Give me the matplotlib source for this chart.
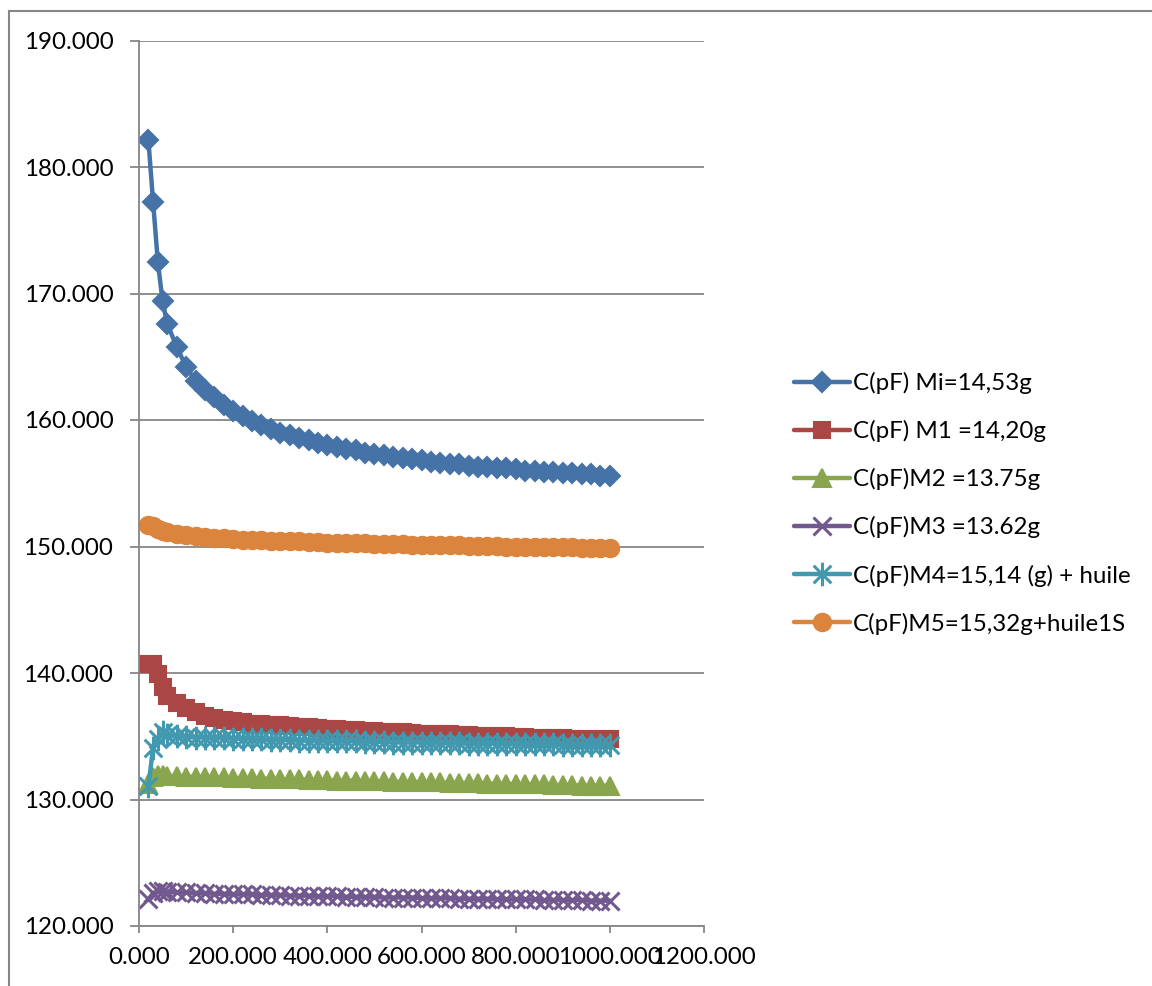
import numpy as np
import matplotlib
matplotlib.use("Agg")
import matplotlib.pyplot as plt
from matplotlib.lines import Line2D
from matplotlib.path import Path
from matplotlib.ticker import FuncFormatter, MultipleLocator

plt.rcParams['font.family'] = ['Lato', 'DejaVu Sans']

# ── data ──────────────────────────────────────────────────
freq = [20, 30, 40, 50, 60, 80, 100, 120, 140, 160,
        180, 200, 220, 240, 260, 280, 300, 320, 340, 360,
        380, 400, 420, 440, 460, 480, 500, 520, 540, 560,
        580, 600, 620, 640, 660, 680, 700, 720, 740, 760,
        780, 800, 820, 840, 860, 880, 900, 920, 940, 960,
        980, 1000]

c_mi = [182.1, 177.2, 172.5, 169.4, 167.6, 165.8, 164.2, 163.1, 162.4, 161.8,
        161.2, 160.7, 160.3, 159.9, 159.6, 159.3, 159.0, 158.8, 158.6, 158.4,
        158.2, 158.0, 157.9, 157.7, 157.6, 157.4, 157.3, 157.2, 157.1, 157.0,
        156.9, 156.8, 156.7, 156.6, 156.5, 156.5, 156.4, 156.3, 156.3, 156.2,
        156.2, 156.1, 156.0, 156.0, 155.9, 155.9, 155.8, 155.8, 155.7, 155.7,
        155.6, 155.6]

c_m1 = [140.7, 140.7, 139.9, 138.9, 138.2, 137.6, 137.2, 136.9, 136.6, 136.45,
        136.3, 136.2, 136.1, 136.0, 135.95, 135.9, 135.85, 135.8, 135.75, 135.7,
        135.65, 135.6, 135.55, 135.5, 135.5, 135.45, 135.4, 135.35, 135.35, 135.3,
        135.25, 135.2, 135.2, 135.15, 135.15, 135.1, 135.1, 135.05, 135.05, 135.0,
        135.0, 134.95, 134.95, 134.9, 134.9, 134.85, 134.85, 134.8, 134.8, 134.8,
        134.75, 134.75]

c_m2 = [131.2, 131.8, 131.9, 131.9, 131.85, 131.85, 131.8, 131.8, 131.8, 131.75,
        131.75, 131.7, 131.7, 131.7, 131.65, 131.65, 131.6, 131.6, 131.6, 131.55,
        131.55, 131.55, 131.5, 131.5, 131.5, 131.45, 131.45, 131.45, 131.4, 131.4,
        131.4, 131.35, 131.35, 131.35, 131.3, 131.3, 131.3, 131.3, 131.25, 131.25,
        131.25, 131.2, 131.2, 131.2, 131.2, 131.15, 131.15, 131.15, 131.1, 131.1,
        131.1, 131.1]

c_m3 = [122.1, 122.6, 122.75, 122.75, 122.7, 122.65, 122.65, 122.6, 122.6, 122.55,
        122.55, 122.5, 122.5, 122.5, 122.45, 122.45, 122.45, 122.4, 122.4, 122.4,
        122.35, 122.35, 122.35, 122.3, 122.3, 122.3, 122.3, 122.25, 122.25, 122.25,
        122.25, 122.2, 122.2, 122.2, 122.2, 122.15, 122.15, 122.15, 122.15, 122.1,
        122.1, 122.1, 122.1, 122.1, 122.05, 122.05, 122.05, 122.05, 122.05, 122.0,
        122.0, 122.0]

c_m4 = [131.1, 134.1, 134.8, 135.3, 135.1, 135.0, 134.95, 134.9, 134.9, 134.85,
        134.85, 134.8, 134.8, 134.75, 134.75, 134.7, 134.7, 134.7, 134.65, 134.65,
        134.65, 134.6, 134.6, 134.6, 134.6, 134.55, 134.55, 134.55, 134.5, 134.5,
        134.5, 134.5, 134.45, 134.45, 134.45, 134.45, 134.4, 134.4, 134.4, 134.4,
        134.4, 134.35, 134.35, 134.35, 134.35, 134.35, 134.3, 134.3, 134.3, 134.3,
        134.3, 134.3]

c_m5 = [151.7, 151.6, 151.4, 151.25, 151.15, 151.0, 150.9, 150.8, 150.75, 150.7,
        150.65, 150.6, 150.55, 150.55, 150.5, 150.45, 150.45, 150.4, 150.4, 150.35,
        150.35, 150.3, 150.3, 150.3, 150.25, 150.25, 150.2, 150.2, 150.2, 150.2,
        150.15, 150.15, 150.15, 150.1, 150.1, 150.1, 150.05, 150.05, 150.05, 150.05,
        150.0, 150.0, 150.0, 150.0, 149.95, 149.95, 149.95, 149.95, 149.9, 149.9,
        149.9, 149.9]

labels = ["C(pF) Mi=14,53g", "C(pF) M1 =14,20g", "C(pF)M2 =13.75g",
          "C(pF)M3 =13.62g", "C(pF)M4=15,14 (g) + huile", "C(pF)M5=15,32g+huile1S"]

# excel-ish asterisk: an X plus a vertical bar
star = Path([(-0.75, -0.75), (0.75, 0.75), (-0.75, 0.75), (0.75, -0.75), (0, -1), (0, 1)],
            [Path.MOVETO, Path.LINETO, Path.MOVETO, Path.LINETO, Path.MOVETO, Path.LINETO])

# (values, colour, marker, size, edge width)
series = [
    (c_mi, '#4572A7', 'D', 10.5, 1.5),
    (c_m1, '#AA4643', 's', 12, 1.5),
    (c_m2, '#89A54E', '^', 13.5, 1.5),
    (c_m3, '#71588F', 'x', 13, 2.2),
    (c_m4, '#4198AF', star, 17, 2.2),
    (c_m5, '#DB843D', 'o', 12.5, 1.5),
]

GRID = '#868686'

fig = plt.figure(figsize=(11.52, 9.86), dpi=100, facecolor='white')
ax = fig.add_axes([139 / 1152, 60 / 986, (704 - 139) / 1152, (926 - 40.5) / 986])

for (vals, col, mk, ms, mew), lab in zip(series, labels):
    ax.plot(freq, vals, color=col, lw=3.2, marker=mk, markersize=ms,
            markerfacecolor=col, markeredgecolor=col, markeredgewidth=mew,
            label=lab, solid_capstyle='round', solid_joinstyle='round')

ax.set_xlim(0, 1200)
ax.set_ylim(120, 190)
ax.xaxis.set_major_locator(MultipleLocator(200))
ax.yaxis.set_major_locator(MultipleLocator(10))
fmt = FuncFormatter(lambda v, p: f"{v:.3f}")
ax.xaxis.set_major_formatter(fmt)
ax.yaxis.set_major_formatter(fmt)

ax.grid(axis='y', color=GRID, lw=1.3)
ax.set_axisbelow(True)
for s in ['top', 'right']:
    ax.spines[s].set_visible(False)
for s in ['left', 'bottom']:
    ax.spines[s].set_color(GRID)
    ax.spines[s].set_linewidth(1.3)
ax.tick_params(axis='y', direction='out', length=6.5, width=1.3, color=GRID,
               labelsize=17.4, pad=12, labelcolor='black')
ax.tick_params(axis='x', direction='out', length=5, width=1.3, color=GRID,
               labelsize=17.4, pad=10, labelcolor='black')

leg = ax.legend(loc='center left', bbox_to_anchor=(794 / 1152, 0.4895),
                bbox_transform=fig.transFigure, frameon=False, fontsize=17.4,
                handlelength=2.3, handletextpad=0.15, labelspacing=1.075,
                borderpad=0, borderaxespad=0, numpoints=1)

# outer chart frame (only left & top edges fall inside the picture)
fig.add_artist(Line2D([9 / 1152, 9 / 1152], [0, 1 - 11 / 986], transform=fig.transFigure,
                      color=GRID, lw=1.5))
fig.add_artist(Line2D([9 / 1152, 1], [1 - 11 / 986, 1 - 11 / 986], transform=fig.transFigure,
                      color=GRID, lw=1.5))

fig.savefig("out.png", dpi=100, facecolor='white')
